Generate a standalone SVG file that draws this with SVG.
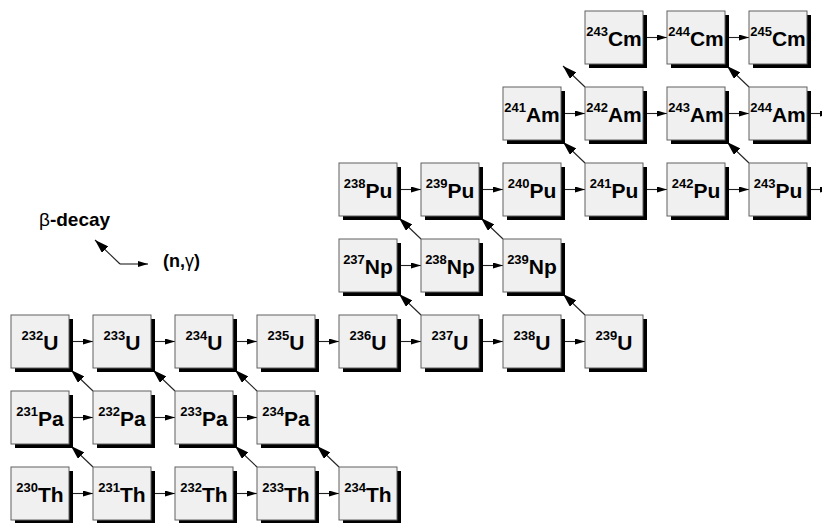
<svg xmlns="http://www.w3.org/2000/svg" width="822" height="523" viewBox="0 0 822 523">
<style>
.sh{fill:#000}
.bx{fill:#f0f0f0;stroke:#606060;stroke-width:1}
.lb{font-family:"Liberation Sans",Arial,sans-serif;font-weight:bold;fill:#000;text-anchor:middle}
.sp{font-size:13px}
.el{font-size:21px}
.cn{fill:none;stroke:#222;stroke-width:1.1}
.h{marker-end:url(#ah)}
.d{marker-end:url(#ad)}
.lg{font-family:"Liberation Sans",Arial,sans-serif;font-weight:bold;fill:#000}
.gr{font-weight:normal}
</style>
<defs>
<marker id="ah" viewBox="0 0 10 6" refX="10" refY="3" markerWidth="10" markerHeight="6" markerUnits="userSpaceOnUse" orient="auto"><path d="M0,0 L10,3 L0,6 z" fill="#000"/></marker>
<marker id="ad" viewBox="0 0 14 9" refX="14" refY="4.5" markerWidth="14" markerHeight="9" markerUnits="userSpaceOnUse" orient="auto"><path d="M0,0 L14,4.5 L0,9 z" fill="#000"/></marker>
</defs>

<g id="legend">
<text class="lg" x="39" y="226" font-size="19"><tspan class="gr">β</tspan>-decay</text>
<text class="lg" x="163" y="267" font-size="18">(n,<tspan class="gr">γ</tspan>)</text>
<path class="cn d" d="M120,264 L95,240"/>
<path class="cn h" d="M120,264 H148"/>
</g>

<g id="connectors">
<!-- Th row -->
<path class="cn h" d="M71,493.5 H93"/>
<path class="cn h" d="M153,493.5 H175"/>
<path class="cn h" d="M235,493.5 H257"/>
<path class="cn h" d="M317,493.5 H339"/>
<!-- Pa row -->
<path class="cn h" d="M71,417.5 H93"/>
<path class="cn h" d="M153,417.5 H175"/>
<path class="cn h" d="M235,417.5 H257"/>
<!-- U row -->
<path class="cn h" d="M71,341.5 H93"/>
<path class="cn h" d="M153,341.5 H175"/>
<path class="cn h" d="M235,341.5 H257"/>
<path class="cn h" d="M317,341.5 H339"/>
<path class="cn h" d="M399,341.5 H421"/>
<path class="cn h" d="M481,341.5 H503"/>
<path class="cn h" d="M563,341.5 H585"/>
<!-- Np row -->
<path class="cn h" d="M399,265.5 H421"/>
<path class="cn h" d="M481,265.5 H503"/>
<!-- Pu row -->
<path class="cn h" d="M399,189.5 H421"/>
<path class="cn h" d="M481,189.5 H503"/>
<path class="cn h" d="M563,189.5 H585"/>
<path class="cn h" d="M645,189.5 H667"/>
<path class="cn h" d="M727,189.5 H749"/>
<path class="cn h" d="M809,189.5 H830"/>
<!-- Am row -->
<path class="cn h" d="M563,113.5 H585"/>
<path class="cn h" d="M645,113.5 H667"/>
<path class="cn h" d="M727,113.5 H749"/>
<path class="cn h" d="M809,113.5 H830"/>
<!-- Cm row -->
<path class="cn h" d="M645,37.5 H667"/>
<path class="cn h" d="M727,37.5 H749"/>
<!-- beta decays -->
<path class="cn d" d="M93,467 L71,446"/>
<path class="cn d" d="M257,467 L235,446"/>
<path class="cn d" d="M339,467 L317,446"/>
<path class="cn d" d="M93,391 L71,370"/>
<path class="cn d" d="M175,391 L153,370"/>
<path class="cn d" d="M257,391 L235,370"/>
<path class="cn d" d="M421,315 L399,294"/>
<path class="cn d" d="M585,315 L563,294"/>
<path class="cn d" d="M421,239 L399,218"/>
<path class="cn d" d="M503,239 L481,218"/>
<path class="cn d" d="M585,163 L563,142"/>
<path class="cn d" d="M749,163 L727,142"/>
<path class="cn d" d="M585,87 L563,66"/>
<path class="cn d" d="M749,87 L727,66"/>
</g>

<!-- Th row y=467 -->
<g id="Th230"><rect class="sh" x="15" y="471" width="58" height="53"/><rect class="bx" x="11" y="467" width="58" height="53"/><text class="lb" x="40" y="492"><tspan class="sp">230</tspan><tspan class="el" dy="10">Th</tspan></text></g>
<g id="Th231"><rect class="sh" x="97" y="471" width="58" height="53"/><rect class="bx" x="93" y="467" width="58" height="53"/><text class="lb" x="122" y="492"><tspan class="sp">231</tspan><tspan class="el" dy="10">Th</tspan></text></g>
<g id="Th232"><rect class="sh" x="179" y="471" width="58" height="53"/><rect class="bx" x="175" y="467" width="58" height="53"/><text class="lb" x="204" y="492"><tspan class="sp">232</tspan><tspan class="el" dy="10">Th</tspan></text></g>
<g id="Th233"><rect class="sh" x="261" y="471" width="58" height="53"/><rect class="bx" x="257" y="467" width="58" height="53"/><text class="lb" x="286" y="492"><tspan class="sp">233</tspan><tspan class="el" dy="10">Th</tspan></text></g>
<g id="Th234"><rect class="sh" x="343" y="471" width="58" height="53"/><rect class="bx" x="339" y="467" width="58" height="53"/><text class="lb" x="368" y="492"><tspan class="sp">234</tspan><tspan class="el" dy="10">Th</tspan></text></g>

<!-- Pa row y=391 -->
<g id="Pa231"><rect class="sh" x="15" y="395" width="58" height="53"/><rect class="bx" x="11" y="391" width="58" height="53"/><text class="lb" x="40" y="416"><tspan class="sp">231</tspan><tspan class="el" dy="10">Pa</tspan></text></g>
<g id="Pa232"><rect class="sh" x="97" y="395" width="58" height="53"/><rect class="bx" x="93" y="391" width="58" height="53"/><text class="lb" x="122" y="416"><tspan class="sp">232</tspan><tspan class="el" dy="10">Pa</tspan></text></g>
<g id="Pa233"><rect class="sh" x="179" y="395" width="58" height="53"/><rect class="bx" x="175" y="391" width="58" height="53"/><text class="lb" x="204" y="416"><tspan class="sp">233</tspan><tspan class="el" dy="10">Pa</tspan></text></g>
<g id="Pa234"><rect class="sh" x="261" y="395" width="58" height="53"/><rect class="bx" x="257" y="391" width="58" height="53"/><text class="lb" x="286" y="416"><tspan class="sp">234</tspan><tspan class="el" dy="10">Pa</tspan></text></g>

<!-- U row y=315 -->
<g id="U232"><rect class="sh" x="15" y="319" width="58" height="53"/><rect class="bx" x="11" y="315" width="58" height="53"/><text class="lb" x="40" y="340"><tspan class="sp">232</tspan><tspan class="el" dy="10">U</tspan></text></g>
<g id="U233"><rect class="sh" x="97" y="319" width="58" height="53"/><rect class="bx" x="93" y="315" width="58" height="53"/><text class="lb" x="122" y="340"><tspan class="sp">233</tspan><tspan class="el" dy="10">U</tspan></text></g>
<g id="U234"><rect class="sh" x="179" y="319" width="58" height="53"/><rect class="bx" x="175" y="315" width="58" height="53"/><text class="lb" x="204" y="340"><tspan class="sp">234</tspan><tspan class="el" dy="10">U</tspan></text></g>
<g id="U235"><rect class="sh" x="261" y="319" width="58" height="53"/><rect class="bx" x="257" y="315" width="58" height="53"/><text class="lb" x="286" y="340"><tspan class="sp">235</tspan><tspan class="el" dy="10">U</tspan></text></g>
<g id="U236"><rect class="sh" x="343" y="319" width="58" height="53"/><rect class="bx" x="339" y="315" width="58" height="53"/><text class="lb" x="368" y="340"><tspan class="sp">236</tspan><tspan class="el" dy="10">U</tspan></text></g>
<g id="U237"><rect class="sh" x="425" y="319" width="58" height="53"/><rect class="bx" x="421" y="315" width="58" height="53"/><text class="lb" x="450" y="340"><tspan class="sp">237</tspan><tspan class="el" dy="10">U</tspan></text></g>
<g id="U238"><rect class="sh" x="507" y="319" width="58" height="53"/><rect class="bx" x="503" y="315" width="58" height="53"/><text class="lb" x="532" y="340"><tspan class="sp">238</tspan><tspan class="el" dy="10">U</tspan></text></g>
<g id="U239"><rect class="sh" x="589" y="319" width="58" height="53"/><rect class="bx" x="585" y="315" width="58" height="53"/><text class="lb" x="614" y="340"><tspan class="sp">239</tspan><tspan class="el" dy="10">U</tspan></text></g>

<!-- Np row y=239 -->
<g id="Np237"><rect class="sh" x="343" y="243" width="58" height="53"/><rect class="bx" x="339" y="239" width="58" height="53"/><text class="lb" x="368" y="264"><tspan class="sp">237</tspan><tspan class="el" dy="10">Np</tspan></text></g>
<g id="Np238"><rect class="sh" x="425" y="243" width="58" height="53"/><rect class="bx" x="421" y="239" width="58" height="53"/><text class="lb" x="450" y="264"><tspan class="sp">238</tspan><tspan class="el" dy="10">Np</tspan></text></g>
<g id="Np239"><rect class="sh" x="507" y="243" width="58" height="53"/><rect class="bx" x="503" y="239" width="58" height="53"/><text class="lb" x="532" y="264"><tspan class="sp">239</tspan><tspan class="el" dy="10">Np</tspan></text></g>

<!-- Pu row y=163 -->
<g id="Pu238"><rect class="sh" x="343" y="167" width="58" height="53"/><rect class="bx" x="339" y="163" width="58" height="53"/><text class="lb" x="368" y="188"><tspan class="sp">238</tspan><tspan class="el" dy="10">Pu</tspan></text></g>
<g id="Pu239"><rect class="sh" x="425" y="167" width="58" height="53"/><rect class="bx" x="421" y="163" width="58" height="53"/><text class="lb" x="450" y="188"><tspan class="sp">239</tspan><tspan class="el" dy="10">Pu</tspan></text></g>
<g id="Pu240"><rect class="sh" x="507" y="167" width="58" height="53"/><rect class="bx" x="503" y="163" width="58" height="53"/><text class="lb" x="532" y="188"><tspan class="sp">240</tspan><tspan class="el" dy="10">Pu</tspan></text></g>
<g id="Pu241"><rect class="sh" x="589" y="167" width="58" height="53"/><rect class="bx" x="585" y="163" width="58" height="53"/><text class="lb" x="614" y="188"><tspan class="sp">241</tspan><tspan class="el" dy="10">Pu</tspan></text></g>
<g id="Pu242"><rect class="sh" x="671" y="167" width="58" height="53"/><rect class="bx" x="667" y="163" width="58" height="53"/><text class="lb" x="696" y="188"><tspan class="sp">242</tspan><tspan class="el" dy="10">Pu</tspan></text></g>
<g id="Pu243"><rect class="sh" x="753" y="167" width="58" height="53"/><rect class="bx" x="749" y="163" width="58" height="53"/><text class="lb" x="778" y="188"><tspan class="sp">243</tspan><tspan class="el" dy="10">Pu</tspan></text></g>

<!-- Am row y=87 -->
<g id="Am241"><rect class="sh" x="507" y="91" width="58" height="53"/><rect class="bx" x="503" y="87" width="58" height="53"/><text class="lb" x="532" y="112"><tspan class="sp">241</tspan><tspan class="el" dy="10">Am</tspan></text></g>
<g id="Am242"><rect class="sh" x="589" y="91" width="58" height="53"/><rect class="bx" x="585" y="87" width="58" height="53"/><text class="lb" x="614" y="112"><tspan class="sp">242</tspan><tspan class="el" dy="10">Am</tspan></text></g>
<g id="Am243"><rect class="sh" x="671" y="91" width="58" height="53"/><rect class="bx" x="667" y="87" width="58" height="53"/><text class="lb" x="696" y="112"><tspan class="sp">243</tspan><tspan class="el" dy="10">Am</tspan></text></g>
<g id="Am244"><rect class="sh" x="753" y="91" width="58" height="53"/><rect class="bx" x="749" y="87" width="58" height="53"/><text class="lb" x="778" y="112"><tspan class="sp">244</tspan><tspan class="el" dy="10">Am</tspan></text></g>

<!-- Cm row y=11 -->
<g id="Cm243"><rect class="sh" x="589" y="15" width="58" height="53"/><rect class="bx" x="585" y="11" width="58" height="53"/><text class="lb" x="614" y="36"><tspan class="sp">243</tspan><tspan class="el" dy="10">Cm</tspan></text></g>
<g id="Cm244"><rect class="sh" x="671" y="15" width="58" height="53"/><rect class="bx" x="667" y="11" width="58" height="53"/><text class="lb" x="696" y="36"><tspan class="sp">244</tspan><tspan class="el" dy="10">Cm</tspan></text></g>
<g id="Cm245"><rect class="sh" x="753" y="15" width="58" height="53"/><rect class="bx" x="749" y="11" width="58" height="53"/><text class="lb" x="778" y="36"><tspan class="sp">245</tspan><tspan class="el" dy="10">Cm</tspan></text></g>
</svg>
